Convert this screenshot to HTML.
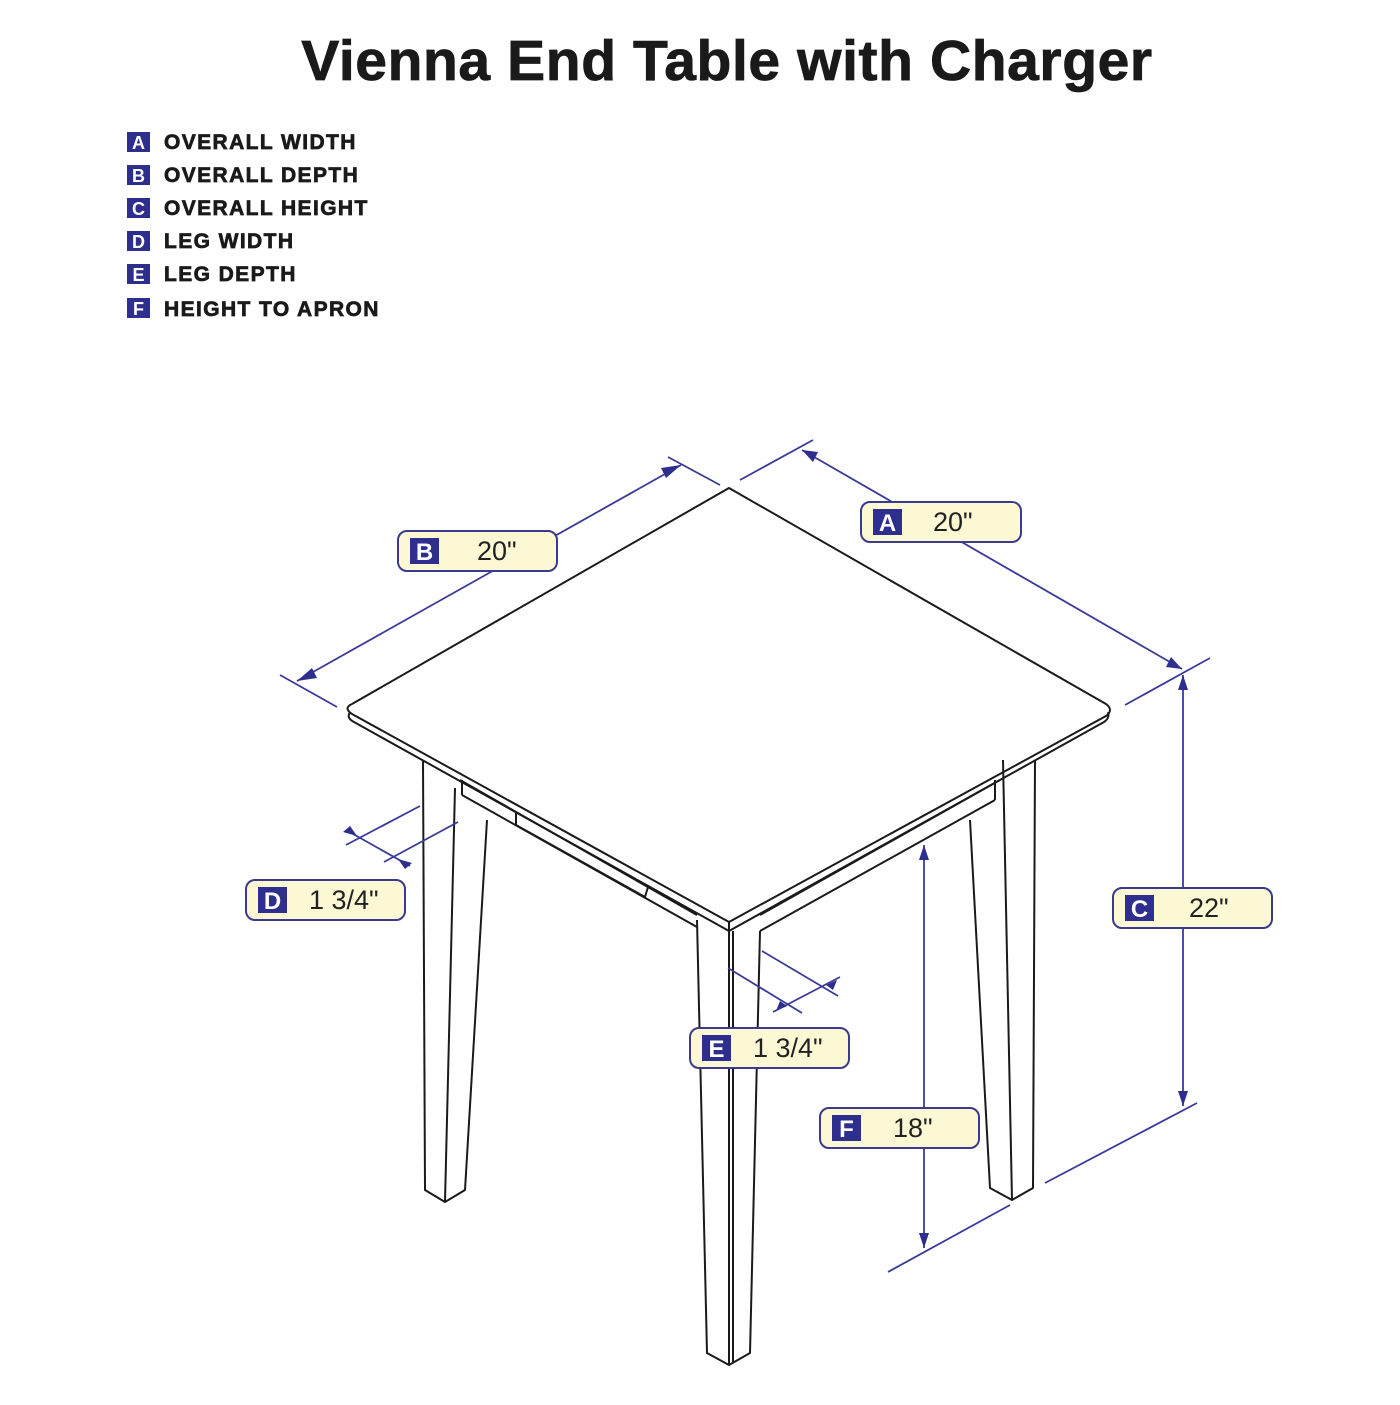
<!DOCTYPE html>
<html><head><meta charset="utf-8"><style>
html,body{margin:0;padding:0;background:#fff;}
body{width:1400px;height:1400px;position:relative;overflow:hidden;font-family:"Liberation Sans",sans-serif;}
</style></head><body>
<svg width="1400" height="1400" viewBox="0 0 1400 1400" xmlns="http://www.w3.org/2000/svg">
<text x="727" y="80" text-anchor="middle" font-family="Liberation Sans" font-weight="bold" font-size="57" letter-spacing="0.6" fill="#1a1a1a" stroke="#1a1a1a" stroke-width="0.8">Vienna End Table with Charger</text>
<g font-family="Liberation Sans" font-weight="bold" font-size="21" fill="#1a1a1a">
<g fill="#2e2e8e"><rect x="127" y="132" width="23" height="20"/><rect x="127" y="165" width="23" height="20"/><rect x="127" y="198" width="23" height="20"/><rect x="127" y="231" width="23" height="20"/><rect x="127" y="264" width="23" height="20"/><rect x="127" y="298" width="23" height="20"/></g>
<g fill="#fff" font-size="18" text-anchor="middle"><text x="138.5" y="149">A</text><text x="138.5" y="182">B</text><text x="138.5" y="215">C</text><text x="138.5" y="248">D</text><text x="138.5" y="281">E</text><text x="138.5" y="315">F</text></g>
<g letter-spacing="1.4" stroke="#1a1a1a" stroke-width="0.7">
<text x="164" y="149">OVERALL WIDTH</text><text x="164" y="182">OVERALL DEPTH</text><text x="164" y="215">OVERALL HEIGHT</text><text x="164" y="248">LEG WIDTH</text><text x="164" y="281">LEG DEPTH</text><text x="164" y="316">HEIGHT TO APRON</text>
</g>
</g>
<g fill="none" stroke="#1a1a1a" stroke-width="2" stroke-linejoin="round">
<path d="M729 488 L1106 704 Q1114 710 1106 716 L729 922 L352 714 Q343 708 352 704 Z" fill="#fff"/>
<path d="M350 712 Q346 718 354 722 L729 931 L1104 722 Q1110 718 1108 712"/>
<line x1="729" y1="922" x2="729" y2="931"/>
<path d="M423 760 L425 1190 L445 1202 L465 1190 L487 820"/>
<path d="M455 788 L445 1202"/>
<path d="M460 780 L697 915 M462 795 L697 927 M462 780 L462 795"/>
<path d="M516 812 L516 825 L645 897 L648 887"/>
<path d="M697 920 L707 1353 L729 1365 L750 1353 L760 931"/>
<path d="M729 931 L729 1365 M733 931 L733 1362"/>
<path d="M760 915 L1000 780 M760 931 L995 800 M995 780 L995 800"/>
<path d="M1003 760 L1012 1200 M1035 760 L1033 1188 L1012 1200 L990 1188 L970 820"/>
</g>
<g stroke="#3a3a9a" stroke-width="1.8" fill="none">
<line x1="280" y1="675" x2="337" y2="707"/><line x1="668" y1="457" x2="720" y2="485"/>
<line x1="297" y1="681" x2="681" y2="465"/>
<line x1="740" y1="480" x2="813" y2="440"/><line x1="1125" y1="705" x2="1210" y2="658"/>
<line x1="802" y1="450" x2="1182" y2="669"/>
<line x1="1183" y1="675" x2="1183" y2="1106"/><line x1="1045" y1="1183" x2="1197" y2="1103"/>
<line x1="924" y1="845" x2="924" y2="1248"/><line x1="888" y1="1272" x2="1010" y2="1205"/>
<line x1="346" y1="845" x2="420" y2="806"/><line x1="384" y1="862" x2="458" y2="822"/><line x1="346" y1="830" x2="410" y2="866"/>
<line x1="728" y1="968" x2="802" y2="1013"/><line x1="762" y1="951" x2="838" y2="996"/><line x1="773" y1="1012" x2="840" y2="977"/>
</g>
<g fill="#2e2e8e">
<polygon points="297,681 312,668 317,678"/><polygon points="681,465 666,478 661,468"/>
<polygon points="802,450 818,452 813,462"/><polygon points="1182,669 1166,667 1171,657"/>
<polygon points="1183,675 1178,690 1188,690"/><polygon points="1183,1106 1178,1091 1188,1091"/>
<polygon points="924,845 919,860 929,860"/><polygon points="924,1248 919,1233 929,1233"/>
<polygon points="357,836 343,832 350,826"/><polygon points="398,859 412,863 405,869"/>
<polygon points="787,1006 776,1011 780,1001"/><polygon points="826,985 837,980 833,990"/>
</g>
<g font-family="Liberation Sans" font-size="27" fill="#222">
<g fill="#fdf8d4" stroke="#3a3a8e" stroke-width="2">
<rect x="398" y="531" width="159" height="40" rx="9"/><rect x="861" y="502" width="160" height="40" rx="9"/>
<rect x="1113" y="888" width="159" height="40" rx="9"/><rect x="820" y="1108" width="159" height="40" rx="9"/>
<rect x="246" y="880" width="159" height="40" rx="9"/><rect x="690" y="1028" width="159" height="40" rx="9"/>
</g>
<g fill="#2e2e8e"><rect x="410" y="538" width="29" height="26"/><rect x="873" y="509" width="29" height="26"/><rect x="1125" y="895" width="29" height="26"/><rect x="832" y="1115" width="29" height="26"/><rect x="258" y="887" width="29" height="26"/><rect x="702" y="1035" width="29" height="26"/></g>
<g fill="#fff" font-weight="bold" font-size="24" text-anchor="middle"><text x="424.5" y="560">B</text><text x="887.5" y="531">A</text><text x="1139.5" y="917">C</text><text x="846.5" y="1137">F</text><text x="272.5" y="909">D</text><text x="716.5" y="1057">E</text></g>
<text x="477" y="560">20"</text><text x="933" y="531">20"</text><text x="1189" y="917">22"</text><text x="893" y="1137">18"</text><text x="309" y="909">1 3/4"</text><text x="753" y="1057">1 3/4"</text>
</g>
</svg>
</body></html>
